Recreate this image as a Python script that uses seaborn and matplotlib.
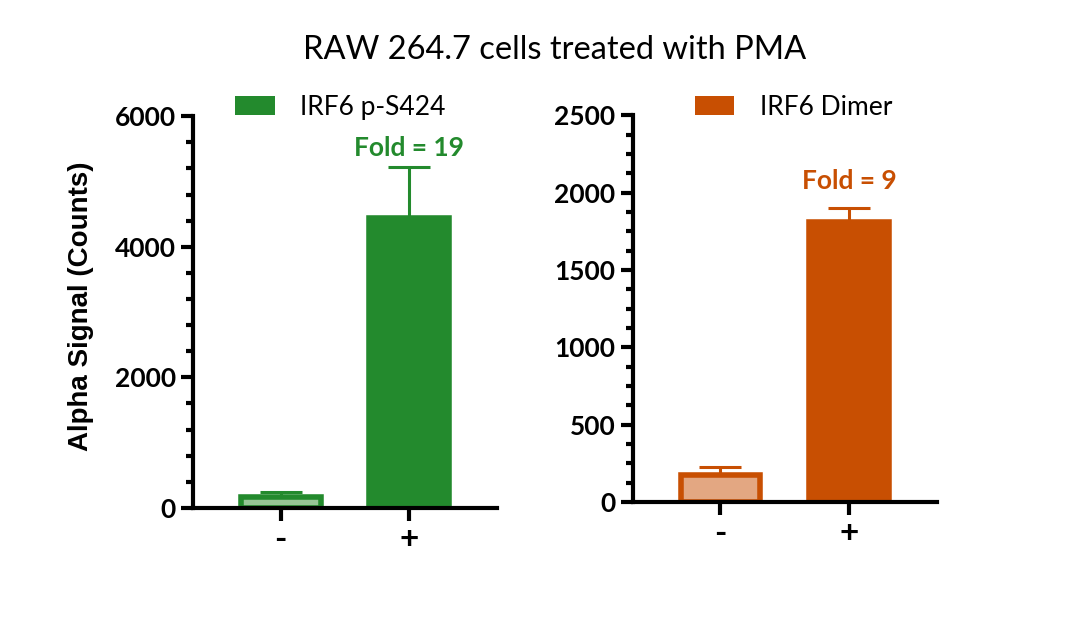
import pandas as pd
import numpy as np
import seaborn as sns
import matplotlib.pyplot as plt
from matplotlib.patches import Patch
from matplotlib.ticker import MultipleLocator

# Data
treatment = ['-', '+']
ps424_mean = [170, 4440]
ps424_sd = [70, 780]
dimer_mean = [176, 1808]
dimer_sd = [50, 95]
fold_labels = ['Fold = 19', 'Fold = 9']
legend_labels = ['IRF6 p-S424', 'IRF6 Dimer']

green = '#238A2D'
green_light = '#96C596'
orange = '#C84F02'
orange_light = '#E3A782'

sns.set_style("ticks", {'axes.edgecolor': 'black', 'text.color': 'black',
                        'xtick.color': 'black', 'ytick.color': 'black',
                        'axes.labelcolor': 'black'})
plt.rcParams['font.family'] = ['Lato', 'DejaVu Sans']

fig = plt.figure(figsize=(10.8, 6.33), dpi=100)
ax1 = fig.add_axes([0.1787, 0.1975, 0.2815, 0.619])
ax2 = fig.add_axes([0.586, 0.207, 0.2815, 0.611])

panels = [
    (ax1, ps424_mean, ps424_sd, [green_light, green], green, 6000, 2000, 400, fold_labels[0], legend_labels[0], (0.138, 1.023), 14),
    (ax2, dimer_mean, dimer_sd, [orange_light, orange], orange, 2500, 500, 125, fold_labels[1], legend_labels[1], (0.204, 1.02), 19),
]

for ax, means, sds, pal, dark, ymax, major, minor, fold, leg, leg_pos, fold_off in panels:
    df = pd.DataFrame({'treatment': treatment, 'signal': means})
    sns.barplot(x='treatment', y='signal', data=df, hue='treatment', order=treatment,
                palette=pal, saturation=1, width=0.62, errorbar=None, legend=False,
                ax=ax, zorder=2)
    for p in ax.patches:
        p.set_edgecolor(dark)
        p.set_linewidth(4)
    for i in range(len(treatment)):
        ax.errorbar(x=[i], y=[means[i]], yerr=[[0], [sds[i]]], fmt='none',
                    ecolor=dark, elinewidth=2.2, capsize=15, capthick=2.2, zorder=1)
    ax.annotate(fold, xy=(1, means[1] + sds[1]), xytext=(0, fold_off),
                textcoords='offset points', ha='center', va='center',
                fontsize=19, fontweight='bold', color=dark)

    ax.set_ylim(0, ymax)
    ax.set_xlim(-0.68, 1.68)
    ax.yaxis.set_major_locator(MultipleLocator(major))
    ax.yaxis.set_minor_locator(MultipleLocator(minor))
    sns.despine(ax=ax)
    for s in ['left', 'bottom']:
        ax.spines[s].set_linewidth(3)
    ax.tick_params(axis='both', which='major', width=3, length=9, labelsize=19)
    ax.tick_params(axis='y', which='minor', width=3, length=5)
    ax.tick_params(axis='x', which='major', labelsize=24, pad=3)
    for lab in ax.get_xticklabels() + ax.get_yticklabels():
        lab.set_fontweight('bold')
    ax.set_xlabel('')
    ax.set_ylabel('')

    ax.legend(handles=[Patch(facecolor=dark, edgecolor='none', label=leg)],
              loc='center left', bbox_to_anchor=leg_pos, frameon=False,
              fontsize=19, handlelength=1.5, handleheight=0.75, handletextpad=0.95,
              borderpad=0, borderaxespad=0)

ax1.set_ylabel('Alpha Signal (Counts)', fontsize=20, fontweight='bold',
               family=['Liberation Sans', 'DejaVu Sans'])
ax1.yaxis.set_label_coords(-0.325, 0.515)

fig.text(0.514, 1 - 50 / 633, 'RAW 264.7 cells treated with PMA',
         ha='center', va='center', fontsize=23.5)

fig.savefig('out.png', dpi=100)
